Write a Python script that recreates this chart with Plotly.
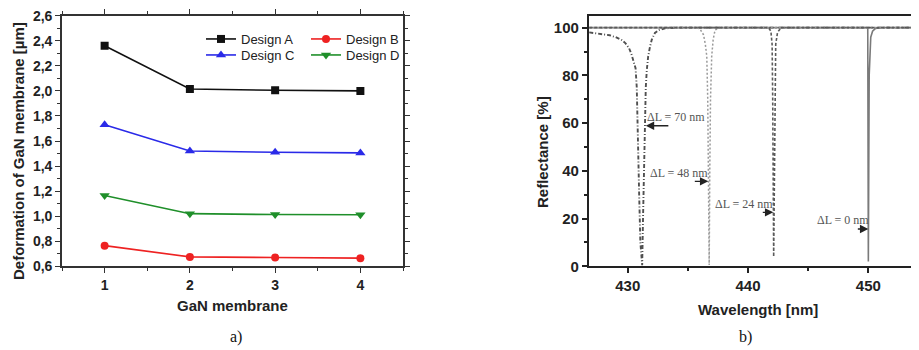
import plotly.graph_objects as go

# ---------------- panel a) data ----------------
membrane = [1, 2, 3, 4]
design_a = [2.36, 2.015, 2.005, 2.0]
design_b = [0.765, 0.675, 0.670, 0.665]
design_c = [1.73, 1.52, 1.51, 1.505]
design_d = [1.165, 1.02, 1.013, 1.012]
names_a = ["Design A", "Design B", "Design C", "Design D"]
yticks_a = [0.6, 0.8, 1.0, 1.2, 1.4, 1.6, 1.8, 2.0, 2.2, 2.4, 2.6]
xticks_a = [1, 2, 3, 4]

# ---------------- panel b) data (read off the picture) ----------------
wl_70 = [426.8, 427.5, 428.0, 428.5, 429.0, 429.5, 429.8, 430.1, 430.3, 430.5, 430.65,
         430.75, 430.8, 430.95, 431.05, 431.2, 431.27, 431.35, 431.44, 431.5, 431.58,
         431.7, 431.85, 432.0, 432.26, 432.6, 433.1, 434.0, 454.2]
r_70 = [98.0, 97.5, 97.2, 96.8, 96.0, 94.8, 93.5, 91.5, 89.0, 86.0, 83.0,
        75.0, 60.0, 30.0, 10.0, 0.5, 20.0, 40.0, 60.0, 75.0, 82.0,
        88.0, 92.0, 95.0, 97.8, 99.0, 99.7, 100.0, 100.0]

wl_48 = [426.8, 435.6, 436.0, 436.3, 436.45, 436.57, 436.65, 436.72, 436.77,
         436.82, 436.88, 436.98, 437.1, 437.26, 437.7, 454.2]
r_48 = [100.0, 100.0, 99.5, 97.0, 93.0, 88.0, 70.0, 40.0, 0.5,
        40.0, 70.0, 88.0, 95.0, 99.0, 100.0, 100.0]

wl_24 = [426.8, 441.7, 441.9, 442.0, 442.05, 442.1, 442.13, 442.18, 442.23,
         442.3, 442.45, 442.75, 454.2]
r_24 = [100.0, 100.0, 98.5, 93.0, 70.0, 30.0, 4.0, 30.0, 70.0,
        93.0, 98.0, 100.0, 100.0]

wl_0 = [426.8, 449.95, 450.0, 450.07, 450.2, 450.35, 450.6, 451.0, 454.2]
r_0 = [100.0, 100.0, 2.0, 80.0, 96.0, 98.5, 99.7, 100.0, 100.0]

labels_b = ["ΔL = 70 nm", "ΔL = 48 nm", "ΔL = 24 nm", "ΔL = 0 nm"]
xticks_b = [430, 440, 450]
yticks_b = [0, 20, 40, 60, 80, 100]

SANS = "Liberation Sans, Arial, sans-serif"
SERIF = "Liberation Serif, Times New Roman, serif"
AX = "#333333"

# the page body has an 8 px margin: figure is 911x342 drawn at (8, 8)
W, H, OFF = 911, 342, 8


def PX(px):
    return (px - OFF) / W


def PY(py):
    return 1 - (py - OFF) / H


fig = go.Figure()

styles_a = [
    dict(color="#111111", symbol="square", size=8, legend="legend", lx=193, ly=24),
    dict(color="#ee2222", symbol="circle", size=8, legend="legend2", lx=298, ly=24),
    dict(color="#2a2ae8", symbol="triangle-up", size=9, legend="legend3", lx=193, ly=40),
    dict(color="#1f8f2a", symbol="triangle-down", size=9, legend="legend4", lx=298, ly=40),
]
series_a = [design_a, design_b, design_c, design_d]
for i in range(4):
    st = styles_a[i]
    fig.add_trace(go.Scatter(
        x=membrane, y=series_a[i], name=names_a[i], mode="lines+markers",
        line=dict(color=st["color"], width=1.6),
        marker=dict(symbol=st["symbol"], size=st["size"], color=st["color"]),
        legend=st["legend"], xaxis="x", yaxis="y"))

spectra = [
    (wl_0, r_0, dict(color="#7a7a7a", width=1.6, dash="solid")),
    (wl_70, r_70, dict(color="#505050", width=1.9, dash="4px,2px,1px,2px")),
    (wl_48, r_48, dict(color="#9a9a9a", width=1.5, dash="2px,2px")),
    (wl_24, r_24, dict(color="#5a5a5a", width=1.6, dash="3px,2px")),
]
for wl, r, ln in spectra:
    fig.add_trace(go.Scatter(x=wl, y=r, mode="lines", line=ln, showlegend=False,
                             xaxis="x2", yaxis="y2", hoverinfo="x+y"))

tickfont_a = dict(family=SANS, size=14, color="#222222", weight="bold")
tickfont_b = dict(family=SANS, size=15, color="#222222", weight="bold")

common_a = dict(showgrid=False, zeroline=False, showline=True, linecolor=AX, linewidth=1.6,
                ticks="outside", tickcolor=AX, tickwidth=1.4, ticklen=5,
                ticklabeloverflow="allow")
common_b = dict(showgrid=False, zeroline=False, showline=True, linecolor="#222222",
                linewidth=2.2, ticks="outside", tickcolor="#222222", tickwidth=1.6, ticklen=5,
                ticklabeloverflow="allow")

ydom = [PY(266.3), PY(15.7)]

legends = {}
for st in styles_a:
    legends[st["legend"]] = dict(
        x=PX(st["lx"] + OFF), y=PY(st["ly"]), xanchor="left", yanchor="top",
        bgcolor="rgba(0,0,0,0)", itemwidth=30,
        font=dict(family=SANS, size=13, color="#222222"))

fig.update_layout(
    width=W, height=H, margin=dict(l=0, r=0, t=0, b=0),
    paper_bgcolor="white", plot_bgcolor="white", template="none",
    separators=",.",
    xaxis=dict(domain=[PX(62), PX(403)], range=[0.5, 4.5], anchor="y",
               tickvals=xticks_a, tickfont=tickfont_a, mirror="ticks",
               minor=dict(ticks="outside", ticklen=3, dtick=0.5, tick0=0.5, tickcolor=AX),
               **common_a),
    yaxis=dict(domain=ydom, range=[0.6, 2.6], anchor="x",
               tickvals=yticks_a, tickformat=".1f", tickfont=tickfont_a, mirror="ticks",
               minor=dict(ticks="outside", ticklen=3, dtick=0.1, tick0=0.6, tickcolor=AX),
               **common_a),
    xaxis2=dict(domain=[PX(589), 1.0], range=[426.78, 454.21], anchor="y2",
                tickvals=xticks_b, tickfont=tickfont_b, mirror=True,
                minor=dict(ticks="outside", ticklen=3, dtick=5, tick0=430, tickcolor="#222222"),
                **common_b),
    yaxis2=dict(domain=ydom, range=[0, 105], anchor="x2",
                tickvals=yticks_b, tickfont=tickfont_b, mirror=False,
                minor=dict(ticks="outside", ticklen=3, dtick=10, tick0=0, tickcolor="#222222"),
                **common_b),
    **legends,
)

title_font = dict(family=SANS, size=15, color="#222222", weight="bold")
ann = [
    dict(text="Deformation of GaN membrane [µm]", x=PX(18), y=PY(151), textangle=-90),
    dict(text="GaN membrane", x=PX(232), y=PY(305)),
    dict(text="Reflectance [%]", x=PX(542), y=PY(152), textangle=-90),
    dict(text="Wavelength [nm]", x=PX(758), y=PY(309)),
]
for a in ann:
    fig.add_annotation(xref="paper", yref="paper", showarrow=False, font=title_font,
                       xanchor="center", yanchor="middle", **a)

for txt, x in (("a)", PX(236)), ("b)", PX(745))):
    fig.add_annotation(text=txt, xref="paper", yref="paper", x=x, y=PY(337),
                       showarrow=False, xanchor="center", yanchor="middle",
                       font=dict(family=SERIF, size=16, color="#111111"))

# ΔL labels and arrows
label_pos = [(434.0, 62.5), (434.26, 39.3), (439.67, 26.2), (447.86, 19.5)]
arrows = [((433.5, 58.9), (431.5, 58.9)), ((435.45, 35.6), (436.7, 35.6)),
          ((441.1, 22.6), (442.1, 22.6)), ((449.0, 15.6), (450.0, 15.6))]
for txt, (lx, ly), (tail, head) in zip(labels_b, label_pos, arrows):
    fig.add_annotation(text=txt, x=lx, y=ly, xref="x2", yref="y2", showarrow=False,
                       xanchor="center", yanchor="middle",
                       font=dict(family=SERIF, size=12, color="#555555"))
    fig.add_annotation(text="", x=head[0], y=head[1], ax=tail[0], ay=tail[1],
                       xref="x2", yref="y2", axref="x2", ayref="y2", showarrow=True,
                       arrowhead=2, arrowsize=1.2, arrowwidth=1.4, arrowcolor="#222222",
                       standoff=0, startstandoff=0)

fig.write_html("out.html")
